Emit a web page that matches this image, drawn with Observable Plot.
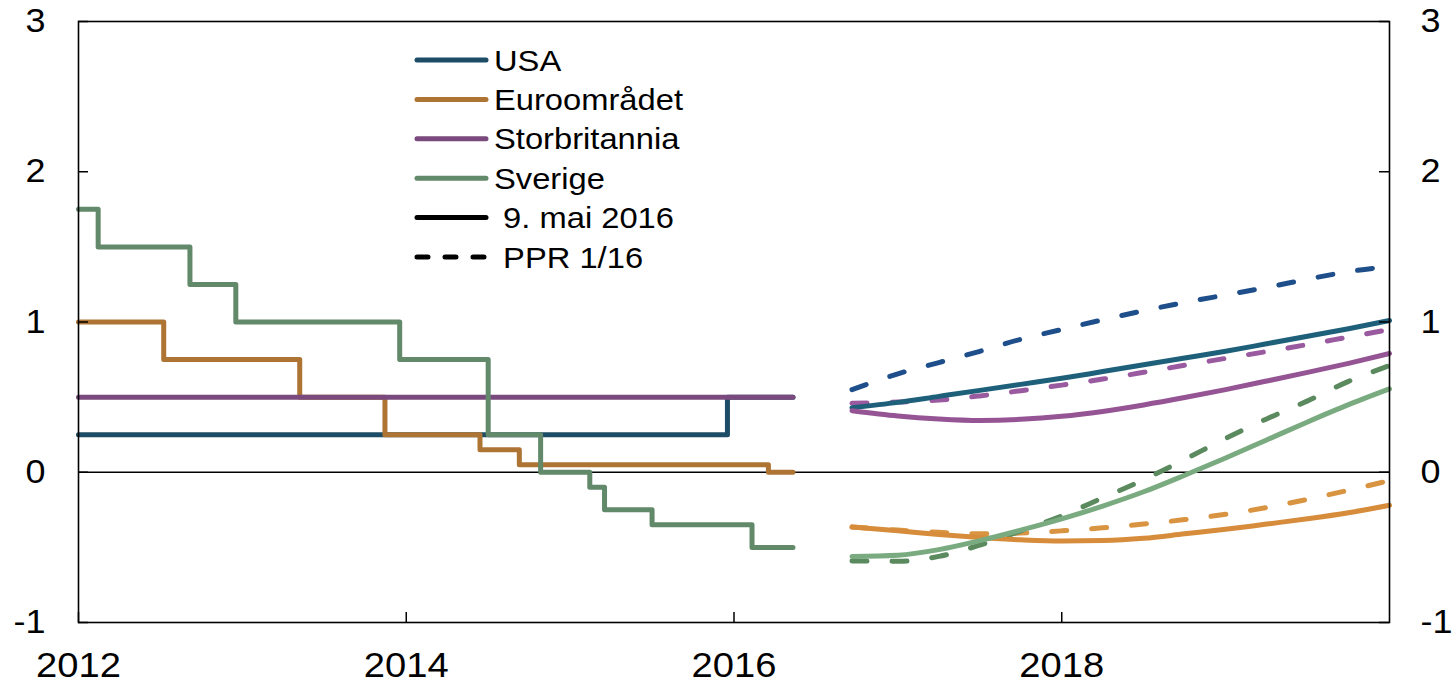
<!DOCTYPE html>
<html><head><meta charset="utf-8">
<script src="https://cdn.jsdelivr.net/npm/d3@7"></script>
<script src="https://cdn.jsdelivr.net/npm/@observablehq/plot@0.6"></script>
<style>body{margin:0;background:#fff} svg{display:block}</style>
</head><body><div id="chart"></div>
<script>
// ---- data ----
const seriesNames = ["USA", "Euroområdet", "Storbritannia", "Sverige"];
const legendExtra = [" 9. mai 2016", " PPR 1/16"];
const yTicks = [-1, 0, 1, 2, 3];
const xTicks = [2012, 2014, 2016, 2018];

// policy rates (change dates, step-after)
const usaHistX = [2012, 2015.96, 2016.36];
const usaHistY = [0.25, 0.5, 0.5];
const eurHistX = [2012, 2012.52, 2013.35, 2013.87, 2014.45, 2014.69, 2016.21, 2016.36];
const eurHistY = [1.0, 0.75, 0.5, 0.25, 0.15, 0.05, 0.0, 0.0];
const gbrHistX = [2012, 2016.36];
const gbrHistY = [0.5, 0.5];
const sweHistX = [2012, 2012.12, 2012.68, 2012.96, 2013.96, 2014.50, 2014.82, 2015.12, 2015.21, 2015.50, 2016.11, 2016.36];
const sweHistY = [1.75, 1.5, 1.25, 1.0, 0.75, 0.25, 0.0, -0.1, -0.25, -0.35, -0.5, -0.5];

// forward rates
const fwdX = [2016.72, 2017.0, 2017.25, 2017.5, 2017.75, 2018.0, 2018.25, 2018.5, 2018.75, 2019.0, 2019.25, 2019.5, 2019.75, 2020.0];
const usaNow = [0.43, 0.465, 0.505, 0.545, 0.585, 0.625, 0.67, 0.715, 0.76, 0.805, 0.855, 0.905, 0.955, 1.01];
const usaPpr = [0.55, 0.655, 0.73, 0.805, 0.885, 0.95, 1.015, 1.075, 1.13, 1.18, 1.23, 1.285, 1.335, 1.37];
const eurNow = [-0.365, -0.39, -0.415, -0.435, -0.45, -0.458, -0.455, -0.44, -0.41, -0.38, -0.345, -0.31, -0.27, -0.22];
const eurPpr = [-0.365, -0.385, -0.40, -0.41, -0.405, -0.39, -0.37, -0.345, -0.315, -0.28, -0.235, -0.18, -0.12, -0.055];
const gbrNow = [0.41, 0.375, 0.355, 0.345, 0.352, 0.372, 0.405, 0.448, 0.497, 0.55, 0.607, 0.665, 0.725, 0.79];
const gbrPpr = [0.46, 0.467, 0.48, 0.508, 0.543, 0.58, 0.62, 0.665, 0.712, 0.758, 0.803, 0.85, 0.90, 0.95];
const sweNow = [-0.56, -0.552, -0.515, -0.455, -0.385, -0.31, -0.225, -0.13, -0.02, 0.095, 0.215, 0.335, 0.45, 0.555];
const swePpr = [-0.59, -0.593, -0.56, -0.485, -0.39, -0.29, -0.17, -0.05, 0.085, 0.225, 0.355, 0.475, 0.605, 0.71];

// ---- styles ----
const histColors = ["#1d4d66", "#ae7434", "#7a4a7e", "#62896a"];
const nowColors  = ["#1e5f7a", "#d68c3b", "#955594", "#7aab80"];
const pprColors  = ["#1f4f8a", "#d99442", "#9a5aa0", "#5b8a5f"];
const FONT = "'Liberation Sans', Arial, sans-serif";

const W = 1452, H = 683;
const mL = 78, mR = 63, mT = 21, mB = 61;
const innerW = W - mL - mR, innerH = H - mT - mB;

const zip = (xs, ys) => xs.map((x, i) => ({x, y: ys[i]}));
const hist = [zip(usaHistX, usaHistY), zip(eurHistX, eurHistY), zip(gbrHistX, gbrHistY), zip(sweHistX, sweHistY)];
const now = [usaNow, eurNow, gbrNow, sweNow].map(v => zip(fwdX, v));
const ppr = [usaPpr, eurPpr, gbrPpr, swePpr].map(v => zip(fwdX, v));

const lineOpts = {x: "x", y: "y", strokeWidth: 5, strokeLinejoin: "round", strokeLinecap: "round"};

const marks = [
  Plot.ruleY([0], {stroke: "#000", strokeWidth: 1.6}),
  ...hist.map((d, i) => Plot.line(d, {...lineOpts, curve: "step-after", stroke: histColors[i]})),
  ...ppr.map((d, i) => Plot.line(d, {...lineOpts, curve: "monotone-x", stroke: pprColors[i], strokeDasharray: "15,25"})),
  ...now.map((d, i) => Plot.line(d, {...lineOpts, curve: "monotone-x", stroke: nowColors[i]})),
  Plot.frame({stroke: "#000", strokeWidth: 1.6}),
  Plot.tickY(yTicks, {y: d => d, insetRight: innerW - 10, stroke: "#000", strokeWidth: 1.5}),
  Plot.tickY(yTicks, {y: d => d, insetLeft: innerW - 10, stroke: "#000", strokeWidth: 1.5}),
  Plot.tickX(xTicks, {x: d => d, insetTop: innerH - 10, stroke: "#000", strokeWidth: 1.5}),
  Plot.axisY({anchor: "left", label: null, ticks: yTicks, tickSize: 0, tickPadding: 33, fontSize: 33, tickFormat: d => String(d)}),
  Plot.axisY({anchor: "right", label: null, ticks: yTicks, tickSize: 0, tickPadding: 31, fontSize: 33, tickFormat: d => String(d)}),
  Plot.axisX({anchor: "bottom", label: null, ticks: xTicks, tickSize: 0, tickPadding: 30, fontSize: 35, tickFormat: d => String(d)})
];

const chart = Plot.plot({
  width: W, height: H,
  marginLeft: mL, marginRight: mR, marginTop: mT, marginBottom: mB,
  style: {fontFamily: FONT, color: "#000", background: "#fff", overflow: "visible"},
  x: {domain: [2012, 2020], label: null},
  y: {domain: [-1, 3], label: null},
  marks
});

// ---- legend (inside the plot frame) ----
const svg = d3.select(chart);
const lg = svg.append("g").attr("font-family", FONT).attr("font-size", 30).attr("text-anchor", "start");
const entries = [
  ...seriesNames.map((n, i) => ({label: n, color: histColors[i], dash: null})),
  {label: legendExtra[0], color: "#000", dash: null},
  {label: legendExtra[1], color: "#000", dash: "11,17"}
];
const lx0 = 417, lx1 = 486, ltx = 494, ly0 = 60, lstep = 39.4;
entries.forEach((e, i) => {
  const y = ly0 + i * lstep;
  lg.append("line").attr("x1", lx0).attr("x2", lx1).attr("y1", y).attr("y2", y)
    .attr("stroke", e.color).attr("stroke-width", 5).attr("stroke-linecap", "round")
    .attr("stroke-dasharray", e.dash);
  lg.append("text").attr("x", ltx).attr("y", y).attr("dy", "0.35em")
    .attr("text-anchor", "start").attr("fill", "#000").style("white-space", "pre").text(e.label);
});

document.getElementById("chart").appendChild(chart);

// the reference typography is slightly wider than Liberation Sans: stretch glyphs horizontally
svg.selectAll("text").each(function() {
  const len = this.getComputedTextLength();
  if (len > 0) {
    this.setAttribute("textLength", (len * 1.09).toFixed(1));
    this.setAttribute("lengthAdjust", "spacingAndGlyphs");
  }
});
</script>
</body></html>
